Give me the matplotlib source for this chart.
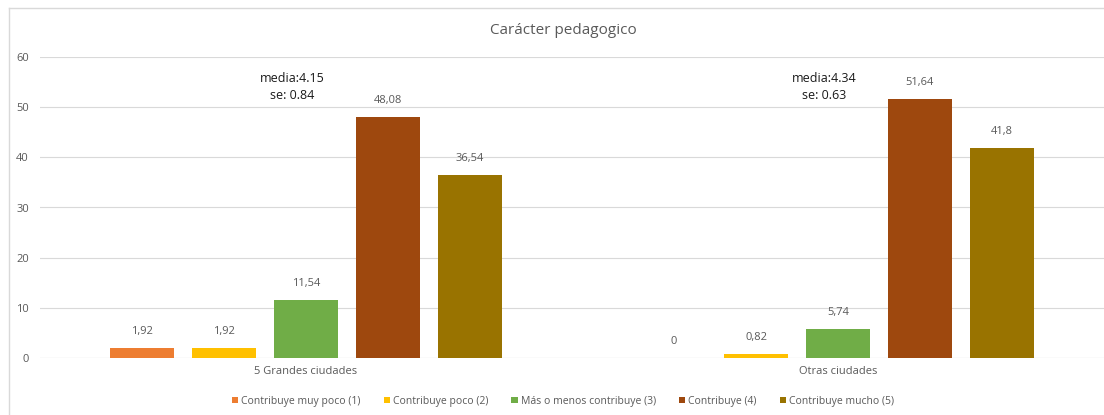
import matplotlib
matplotlib.use("Agg")
import matplotlib.pyplot as plt
from matplotlib.lines import Line2D
import numpy as np

plt.rcParams['font.family'] = ['Open Sans', 'DejaVu Sans']

categories = ["5 Grandes ciudades", "Otras ciudades"]
series_names = ["Contribuye muy poco (1)", "Contribuye poco (2)",
                "Más o menos contribuye (3)", "Contribuye (4)", "Contribuye mucho (5)"]
values = [
    [1.92, 0],
    [1.92, 0.82],
    [11.54, 5.74],
    [48.08, 51.64],
    [36.54, 41.8],
]
value_labels = [
    ["1,92", "0"],
    ["1,92", "0,82"],
    ["11,54", "5,74"],
    ["48,08", "51,64"],
    ["36,54", "41,8"],
]
colors = ["#ED7D31", "#FFC000", "#70AD47", "#9E480E", "#997300"]
stats_text = ["media:4.15\nse: 0.84", "media:4.34\nse: 0.63"]
yticks = [0, 10, 20, 30, 40, 50, 60]

W, H = 1104, 415
fig = plt.figure(figsize=(W / 100, H / 100), dpi=100)
# chart frame: left and top edges
fig.add_artist(Line2D([8.5 / W, 8.5 / W], [0, 1 - 8.5 / H], transform=fig.transFigure,
                      color="#D9D9D9", linewidth=1.0))
fig.add_artist(Line2D([8.5 / W, 1], [1 - 8.5 / H, 1 - 8.5 / H], transform=fig.transFigure,
                      color="#D9D9D9", linewidth=1.0))

ax = fig.add_axes([40 / W, 57 / H, 1064 / W, 301 / H])
x = np.arange(len(categories))
step = 0.154
width = 0.120
for i, (vals, labs, c, name) in enumerate(zip(values, value_labels, colors, series_names)):
    pos = x + (i - 2) * step
    ax.bar(pos, vals, width=width, color=c, label=name, zorder=3)
    for p, v, t in zip(pos, vals, labs):
        ax.text(p, v + 2.2, t, ha="center", va="bottom", fontsize=8, color="#595959")

for xi, t in zip(x, stats_text):
    ax.text(xi - 0.026, 54, t, ha="center", va="center", fontsize=9, color="#1a1a1a",
            linespacing=1.45, fontweight="medium")

ax.set_xlim(-0.5, 1.5)
ax.set_ylim(0, 60)
ax.set_yticks(yticks)
ax.set_xticks(x)
ax.set_xticklabels(categories)
ax.tick_params(axis="both", length=0, labelsize=8, labelcolor="#595959")
ax.tick_params(axis="y", pad=8)
ax.tick_params(axis="x", pad=6)
ax.grid(axis="y", color="#D9D9D9", linewidth=0.8, zorder=0)
for s in ax.spines.values():
    s.set_visible(False)
ax.axhline(0, color="#D9D9D9", linewidth=0.8, zorder=1)

fig.text(563 / W, 1 - 30 / H, "Carácter pedagogico", ha="center", va="center",
         fontsize=11, color="#595959")

leg = fig.legend(loc="center", bbox_to_anchor=(563 / W, 1 - 401 / H), ncol=5, frameon=False,
                 fontsize=7.5, handlelength=0.6, handleheight=0.6, handletextpad=0.3,
                 columnspacing=2.2)
for t in leg.get_texts():
    t.set_color("#595959")

fig.savefig("out.png", dpi=100)
